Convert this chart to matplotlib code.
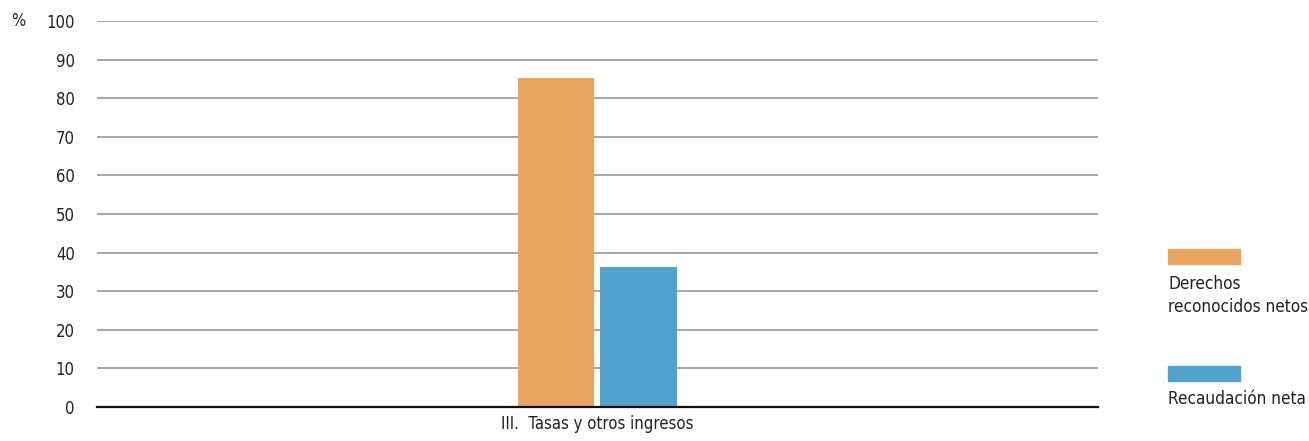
import matplotlib.pyplot as plt
from matplotlib.patches import Rectangle

plt.rcParams['font.family'] = ['DejaVu Sans']
plt.rcParams['font.stretch'] = 'condensed'

categoria = ["III.  Tasas y otros ingresos"]
series = ["Derechos\nreconocidos netos", "Recaudación neta"]
derechos = [85.2]
recaudacion = [36.2]
colores = ["#E9A462", "#52A2D0"]
yticks = list(range(0, 101, 10))

fig = plt.figure(figsize=(13.09, 4.41), dpi=100)
ax = fig.add_axes([0.0741, 0.0771, 0.7647, 0.8753])

w = 0.076
b1 = ax.bar([-0.041], derechos, width=w, color=colores[0], zorder=3)
b2 = ax.bar([0.041], recaudacion, width=w, color=colores[1], zorder=3)

ax.set_xlim(-0.5, 0.5)
ax.set_ylim(0, 100)
ax.set_yticks(yticks)
ax.set_yticklabels([str(t) for t in yticks], fontsize=12, color="#222222")
ax.set_xticks([0])
ax.set_xticklabels(categoria, fontsize=12, color="#222222")
ax.tick_params(length=0, pad=6)
ax.tick_params(axis='y', pad=16)
ax.grid(axis='y', color="#a6a6a6", linewidth=1.4, zorder=0)
for s in ["top", "right", "left"]:
    ax.spines[s].set_visible(False)
ax.spines["bottom"].set_color("#111111")
ax.spines["bottom"].set_linewidth(1.6)
ax.spines["bottom"].set_zorder(4)

fig.text(11 / 1309, 1 - 21 / 441, "%", fontsize=12, va="center", ha="left", color="#222222")

# leyenda a la derecha
for y_patch, y_text, lab, col in [(249, 275, series[0], colores[0]), (366, 390, series[1], colores[1])]:
    fig.add_artist(Rectangle((1168 / 1309, 1 - (y_patch + 15) / 441), 72 / 1309, 15 / 441,
                             transform=fig.transFigure, color=col))
    fig.text(1168 / 1309, 1 - y_text / 441, lab, fontsize=12.3, va="top", ha="left",
             color="#222222", linespacing=1.35)

fig.savefig("out.png", dpi=100)
